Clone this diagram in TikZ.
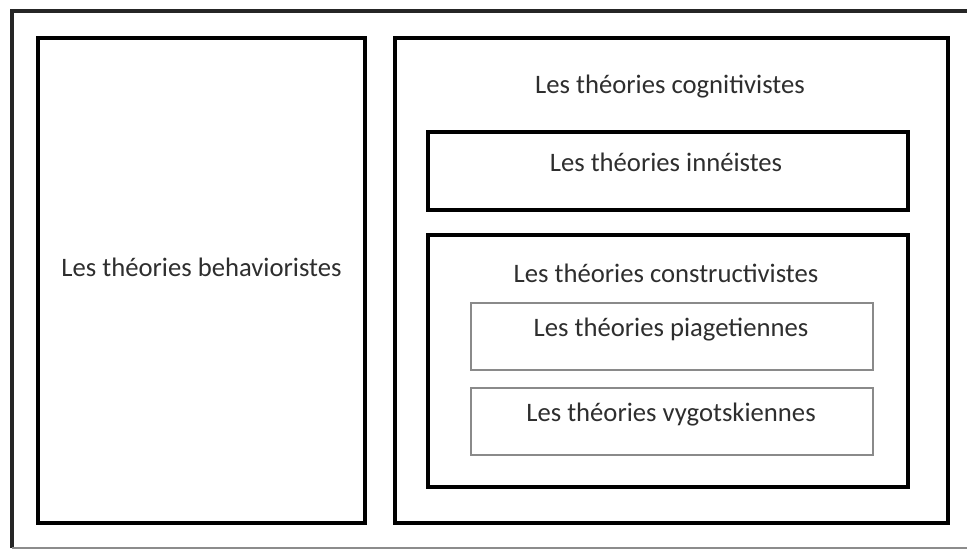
\documentclass[tikz,border=0pt]{standalone}
\usepackage{fontspec}
\setmainfont{Carlito}
\definecolor{txtgrey}{HTML}{2E2E2E}
\definecolor{boxgrey}{HTML}{8A8A8A}
\tikzset{
  bigbox/.style={draw=black,line width=3pt},
  smallbox/.style={draw=boxgrey,line width=1.6pt},
  label/.style={text=txtgrey,font=\fontsize{20}{24}\selectfont,inner sep=0pt},
}

\begin{document}
\begin{tikzpicture}[x=0.75pt,y=0.75pt,yscale=-1,xscale=1]
  \useasboundingbox (0,0) rectangle (967,550);
  % outer frame
  \draw [line width=2.8pt,draw=black!85] (975,11) -- (12,11) -- (12,548);
  \draw [line width=1pt,draw=black!45] (12,548) -- (975,548);
  % boxes
  \draw [bigbox] (38,38) rectangle (365,523);
  \draw [bigbox] (395,38) rectangle (948,523);
  \draw [bigbox] (428,132) rectangle (908,210);
  \draw [bigbox] (428,235) rectangle (908,487);
  \draw [smallbox] (471,303) rectangle (873,370);
  \draw [smallbox] (471,388) rectangle (873,455);
  % texts
  \node [label] (behav)   at (201.5,267) {Les théories behavioristes};
  \node [label] (cognit)  at (670,87)    {Les théories cognitivistes};
  \node [label] (inne)    at (666,162)   {Les théories innéistes};
  \node [label] (constr)  at (666,273)   {Les théories constructivistes};
  \node [label] (piaget)  at (671,330)   {Les théories piagetiennes};
  \node [label] (vygot)   at (671,415)   {Les théories vygotskiennes};
\end{tikzpicture}
\end{document}
